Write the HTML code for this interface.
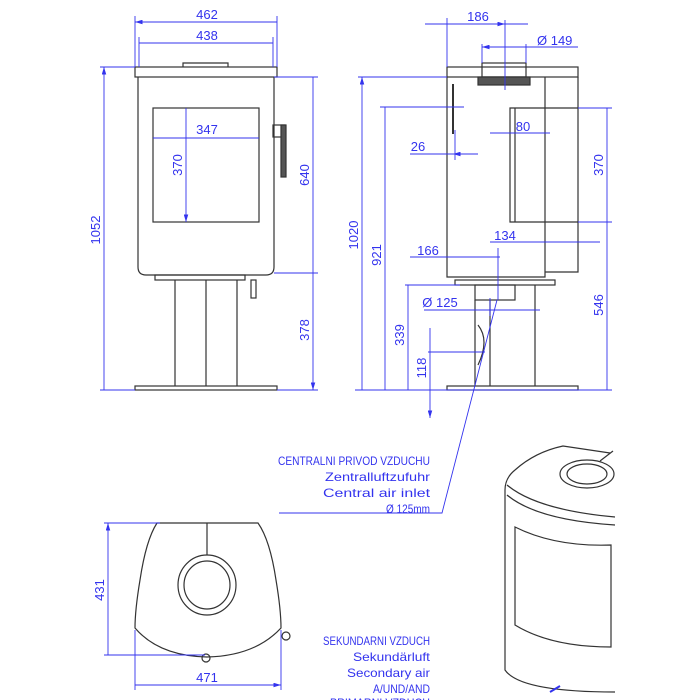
<!DOCTYPE html>
<html><head><style>body{margin:0;background:#fff}svg{display:block}text{font-family:"Liberation Sans Narrow","Liberation Sans",sans-serif;fill:#3333ee;font-size:13px}.c{font-size:12px}</style></head><body>
<svg width="700" height="700" viewBox="0 0 700 700" xmlns="http://www.w3.org/2000/svg">
<defs><marker id="a" viewBox="0 0 10 6" refX="10" refY="3" markerWidth="10" markerHeight="5" orient="auto-start-reverse"><path d="M0,0L10,3L0,6z" fill="#3333ee"/></marker></defs>
<g fill="none" stroke="#333" stroke-width="1.2">
<rect x="135" y="67" width="142" height="10"/>
<path d="M183,67v-4h45v4"/>
<path d="M138,77v190q0,8 8,8h120q8,0 8,-8v-190"/>
<rect x="153" y="108" width="106" height="114"/>
<rect x="155" y="275" width="90" height="5"/>
<path d="M175,280v106M206,280v106M237,280v106"/>
<rect x="135" y="386" width="142" height="4"/>
<rect x="273" y="125" width="12" height="12"/><rect x="281" y="125" width="5" height="52" fill="#555"/>
<rect x="251" y="280" width="5" height="18"/>
<rect x="447" y="67" width="131" height="10"/>
<rect x="482" y="63" width="44" height="14"/>
<rect x="478" y="77" width="52" height="8" fill="#555"/>
<path d="M447,77v200h98v-200M545,77v195h33v-195M510,108h68v114h-68zM515,108v114"/>
<path d="M453,84v50" stroke-width="2"/>
<rect x="455" y="280" width="100" height="5"/>
<rect x="475" y="285" width="40" height="15"/>
<path d="M475,300v86M535,285v101M490,300v86"/>
<path d="M478,325q12,15 0,40"/>
<rect x="447" y="386" width="131" height="4"/>
<path d="M157,523H258Q270,540 276,580Q281,610 281,628Q255,656 207,657Q159,656 135,628Q135,610 140,580Q146,540 157,523Z"/>
<path d="M207,523v32"/>
<ellipse cx="207" cy="585" rx="29" ry="30"/><ellipse cx="207" cy="585" rx="23" ry="24"/>
<circle cx="286" cy="636" r="4"/><circle cx="206" cy="658" r="4"/>
<path d="M505,490q0,-12 10,-20q20,-18 48,-24l47,7"/>
<path d="M507,485q30,25 108,32M507,495q30,25 108,30"/>
<path d="M505,490v180q15,22 110,22"/>
<ellipse cx="587" cy="474" rx="27" ry="14"/><ellipse cx="587" cy="474" rx="20" ry="10"/>
<path d="M600,461l13,-10"/>
<path d="M515,527q40,20 96,18v102q-60,0 -96,-22z"/>
</g>
<g stroke="#3333ee" stroke-width="0.9" fill="none">
<path d="M135,67V16M277,67V16M139,67V37M273,67V37"/>
<path d="M135,22H277M139,43H273M153,138H259M186,108V222" marker-start="url(#a)" marker-end="url(#a)"/>
<path d="M104,67V390M313,77V273M313,273V390" marker-start="url(#a)" marker-end="url(#a)"/>
<path d="M100,67H135M100,390H135M274,77H318M274,273H318M277,390H318"/>
<path d="M447,67V18M505,20V90M482,63V44M526,63V44"/>
<path d="M425,24H447M505,24H528M447,24H505" marker-end="url(#a)"/>
<path d="M482,47H526M526,47H578" marker-start="url(#a)"/>
<path d="M362,77V390M385,107V390M607,108V222M607,222V390M408,285V390M430,328V418" marker-start="url(#a)" marker-end="url(#a)"/>
<path d="M358,77H447M380,107H464M578,108H612M578,222H612M405,285H460M428,352H485M355,390H612"/>
<path d="M410,154H472M455,130V160M490,133H550M490,242H600M410,257H500M498,248V300M424,310H540M490,298V316"/>
<path d="M430,154H453M478,154H453" marker-end="url(#a)"/>
<path d="M497,300L442,513H279"/>
<path d="M108,523V655M135,685H281" marker-start="url(#a)" marker-end="url(#a)"/>
<path d="M104,523H160M104,655H205M135,630V690M281,630V690"/>
<path d="M560,686l-10,6" stroke-width="2"/>
</g>
<g>
<text x="207" y="19" text-anchor="middle">462</text>
<text x="207" y="40" text-anchor="middle">438</text>
<text x="207" y="134" text-anchor="middle">347</text>
<text transform="translate(182,165) rotate(-90)" text-anchor="middle">370</text>
<text transform="translate(100,230) rotate(-90)" text-anchor="middle">1052</text>
<text transform="translate(309,175) rotate(-90)" text-anchor="middle">640</text>
<text transform="translate(309,330) rotate(-90)" text-anchor="middle">378</text>
<text x="478" y="21" text-anchor="middle">186</text>
<text x="537" y="45">Ø 149</text>
<text transform="translate(358,235) rotate(-90)" text-anchor="middle">1020</text>
<text transform="translate(381,255) rotate(-90)" text-anchor="middle">921</text>
<text x="418" y="151" text-anchor="middle">26</text>
<text x="523" y="131" text-anchor="middle">80</text>
<text transform="translate(603,165) rotate(-90)" text-anchor="middle">370</text>
<text x="505" y="240" text-anchor="middle">134</text>
<text x="428" y="255" text-anchor="middle">166</text>
<text transform="translate(603,305) rotate(-90)" text-anchor="middle">546</text>
<text x="440" y="307" text-anchor="middle">Ø 125</text>
<text transform="translate(404,335) rotate(-90)" text-anchor="middle">339</text>
<text transform="translate(426,368) rotate(-90)" text-anchor="middle">118</text>
<text transform="translate(104,590) rotate(-90)" text-anchor="middle">431</text>
<text x="207" y="682" text-anchor="middle">471</text>
<text class="c" x="278" y="465" textLength="152" lengthAdjust="spacingAndGlyphs">CENTRALNI PRIVOD VZDUCHU</text>
<text class="c" x="325" y="481" textLength="105" lengthAdjust="spacingAndGlyphs">Zentralluftzufuhr</text>
<text class="c" x="323" y="497" textLength="107" lengthAdjust="spacingAndGlyphs">Central air inlet</text>
<text class="c" x="386" y="513" textLength="44" lengthAdjust="spacingAndGlyphs">Ø 125mm</text>
<text class="c" x="323" y="645" textLength="107" lengthAdjust="spacingAndGlyphs">SEKUNDARNI VZDUCH</text>
<text class="c" x="353" y="661" textLength="77" lengthAdjust="spacingAndGlyphs">Sekundärluft</text>
<text class="c" x="347" y="677" textLength="83" lengthAdjust="spacingAndGlyphs">Secondary air</text>
<text class="c" x="373" y="693" textLength="57" lengthAdjust="spacingAndGlyphs">A/UND/AND</text>
<text class="c" x="330" y="707" textLength="100" lengthAdjust="spacingAndGlyphs">PRIMARNI VZDUCH</text>
</g>
</svg>
</body></html>
